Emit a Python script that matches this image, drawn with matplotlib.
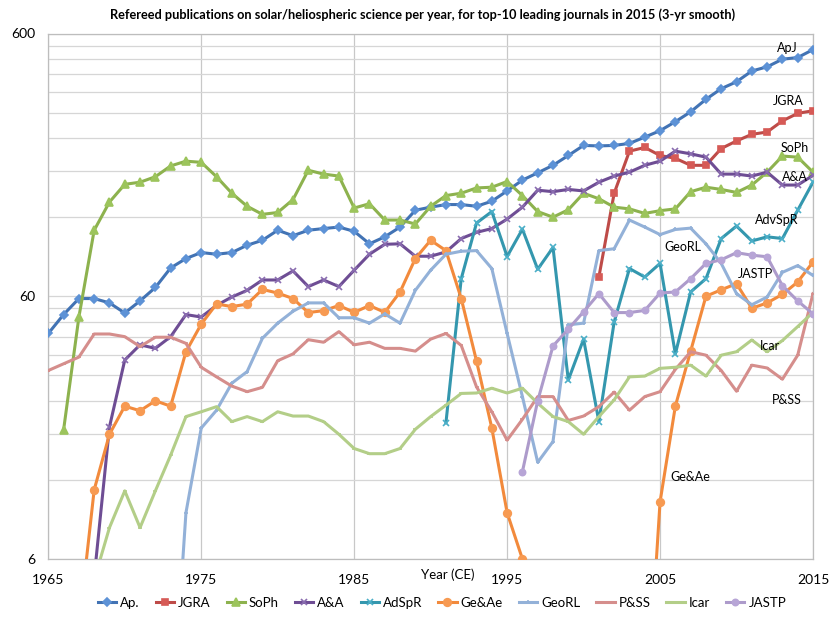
import numpy as np
import matplotlib
matplotlib.use('Agg')
import matplotlib.pyplot as plt
from matplotlib.ticker import FixedLocator, NullFormatter

plt.rcParams['font.family'] = ['Lato', 'DejaVu Sans']

nan = np.nan
years = np.arange(1965, 2016)

# values, 1965..2015 (nan = no point)
ap = [43.3, 51.1, 58.8, 58.8, 56.6, 51.8, 57.6, 64.8, 76.9, 83.5,
      88, 86.7, 88, 93.8, 98, 107, 102, 107, 108.6, 110,
      106, 95, 101, 110, 127.5, 131, 134, 134, 132, 138,
      151, 166, 177, 189, 206, 225, 224, 225, 229, 242,
      256, 277, 302, 337, 370, 393, 432, 448, 479, 486, 521]
jgra = [nan] * 36 + [71, 148, 214, 221, 206, 201, 189, 189, 219, 234,
                     248, 253, 279, 298, 305]
soph = [nan, 18.6, 50, 107, 137, 160, 163, 171, 188, 196,
        194, 171, 148, 132, 123, 125, 140, 181, 175, 172,
        130, 135, 117, 117, 113, 132, 145, 148, 155, 156,
        164, 145, 126, 120, 128, 148, 141, 131, 129, 124,
        127, 129, 150, 156, 153, 149, 159, 178, 205, 203, 178]
aa = [nan, nan, nan, 5.1, 19.1, 34.3, 39.2, 38, 42.1, 51.1,
      50, 55.4, 59.6, 63.2, 69.2, 69.2, 74.9, 65.3, 69.2, 65.3,
      75.4, 86.7, 94.6, 95, 85.2, 85.2, 88.5, 99.5, 105, 108.6,
      118, 131, 152, 150, 153, 151, 163, 172, 178, 189,
      196, 214, 209, 203, 175, 175, 172, 178, 159, 159, 173]
adspr = [nan] * 26 + [19.8, 70, 114, 126, 85, 108, 76, 92, 28.8, 41.2,
                      20, 47.9, 76.5, 71, 80, 36.2, 62.3, 70, 99.5, 111,
                      97.4, 101, 99.5, 127.5, 163]
geae = [nan, nan, 3.3, 11, 17.9, 22.9, 22, 24, 22.9, 36.9,
        47, 56.1, 54.8, 56, 63.7, 61.7, 58.8, 52, 52.9, 55.3,
        52.1, 55.3, 52.1, 62.3, 83.5, 98, 89.5, 58.8, 34, 18.9,
        9, 6.0, nan, nan, nan, nan, nan, nan, nan, 1.2,
        9.9, 22.9, 37.1, 60, 63.5, 67, 54, 56.6, 61, 68, 81]
georl = [nan] * 8 + [1.2, 9.0, 18.9, 22.1, 28, 31, 41.5, 47.4, 52.6, 56.6,
                     56.6, 49.7, 49.7, 47.4, 51.4, 47.4, 63.2, 75.4, 86.7, 89,
                     89.5, 76.5, 43.3, 24.9, 14, 16.8, 46.7, 47.4, 89.5, 91,
                     117, 110, 103, 107.7, 109, 95, 80, 61.4, 55.7, 59.6,
                     74, 78.5, 72]
pss = [31.3, 33.2, 35.2, 43.1, 43.1, 42.1, 38.6, 41.9, 41.9, 39.7,
       32.2, 29.6, 27.3, 26, 27, 34.1, 36.2, 41, 40.1, 44,
       39.2, 40.1, 38, 38, 37.1, 41.2, 43.3, 39, 27.1, 21.8,
       17, 20.4, 24.9, 24.9, 20.2, 21, 22.8, 25.9, 22.1, 24.9,
       26, 31.6, 36.9, 35.8, 31.3, 26.1, 32.8, 32, 29, 35.8, 61.4]
icar = [nan, nan, nan, 5.0, 7.9, 10.9, 7.9, 10.9, 14.9, 20.9,
        21.8, 22.8, 20, 20.9, 20, 21.8, 21, 21, 20, 17.9,
        15.8, 15.1, 15.1, 15.8, 18.7, 20.9, 23.1, 25.6, 25.7, 26.8,
        25.7, 26.8, 23.5, 20.9, 20, 17.9, 20.9, 24.2, 29.6, 29.8,
        31.9, 32.2, 32.8, 29.8, 35.8, 36.9, 40.9, 36.9, 40.7, 46, 52.1]
jastp = [nan] * 31 + [12.9, 24, 38.8, 45, 52.4, 61.4, 52, 52, 53, 61.7,
                      62.3, 70, 80, 82.6, 87.9, 86, 84.8, 65.8, 57.6, 51.4]

series = [
    ('Ap.', ap, '#4273B4', '#5D92D6', 'D', 4.5),
    ('JGRA', jgra, '#BE4B48', '#D65A56', 's', 4.5),
    ('SoPh', soph, '#8DB24E', '#9CC45C', '^', 5.5),
    ('A&A', aa, '#6E4D94', '#8A6DB0', 'x', 4.5),
    ('AdSpR', adspr, '#3497AE', '#4BAFC8', 'x', 4.5),
    ('Ge&Ae', geae, '#F28A3C', '#F79A52', 'o', 5.5),
    ('GeoRL', georl, '#93B1D8', '#93B1D8', '+', 3),
    ('P&SS', pss, '#D58E8C', '#D58E8C', '_', 3),
    ('Icar', icar, '#B3CE88', '#B3CE88', '_', 3),
    ('JASTP', jastp, '#AD9BCB', '#B7A5D6', 'o', 4.5),
]

# in-plot labels (year, value)
labels = [('ApJ', 2013.3, 528), ('JGRA', 2013.4, 332), ('SoPh', 2013.8, 220),
          ('A&A', 2013.8, 170), ('AdvSpR', 2012.6, 117), ('GeoRL', 2006.5, 92),
          ('JASTP', 2011.25, 73), ('Icar', 2012.2, 38.8), ('P&SS', 2013.3, 24.2),
          ('Ge&Ae', 2007.0, 12.3)]

fig = plt.figure(figsize=(8.3, 6.19), dpi=100)
ax = fig.add_axes([48.3 / 830, 1 - 559 / 619, (813 - 48.3) / 830, (559 - 33.5) / 619])

for name, vals, lc, mc, mk, ms in series:
    ax.plot(years, np.array(vals, dtype=float), color=lc, lw=2.2, marker=mk,
            markersize=ms, markerfacecolor=mc, markeredgecolor=mc,
            markeredgewidth=1.2, label=name, zorder=3)

ax.set_yscale('log')
ax.set_ylim(6, 600)
ax.set_xlim(1965, 2015)
ax.yaxis.set_major_locator(FixedLocator([6, 60, 600]))
ax.yaxis.set_major_formatter(matplotlib.ticker.FuncFormatter(lambda v, p: '%d' % round(v)))
minor = [m * 10 ** e for e in range(0, 3) for m in range(1, 10)]
minor = [v * 0.6 for v in minor if 6 < v * 0.6 < 600 and round(v * 0.6) not in (6, 60, 600)]
ax.yaxis.set_minor_locator(FixedLocator(minor))
ax.yaxis.set_minor_formatter(NullFormatter())
ax.set_xticks(range(1965, 2016, 10))
ax.grid(True, which='both', axis='y', color='#D6D6D6', lw=0.9, zorder=0)
ax.grid(True, which='major', axis='x', color='#C8C8C8', lw=0.9, zorder=0)
ax.tick_params(which='both', length=0, labelsize=10, colors='black')
ax.tick_params(axis='y', pad=9)
ax.tick_params(axis='x', pad=11)
for s in ax.spines.values():
    s.set_color('#BDBDBD')
    s.set_linewidth(0.9)

for txt, x, y in labels:
    ax.text(x, y, txt, fontsize=9, ha='center', va='center', zorder=4)

fig.text(423 / 830, 1 - 15 / 619,
         'Refereed publications on solar/heliospheric science per year, for top-10 leading journals in 2015 (3-yr smooth)',
         fontsize=9.2, fontweight='bold', ha='center', va='center')
fig.text(448 / 830, 1 - 575 / 619, 'Year (CE)', fontsize=9.5, ha='center', va='center')

fig.legend(loc='center', bbox_to_anchor=(442 / 830, 1 - 603 / 619), ncol=10,
           frameon=False, fontsize=9.5, handlelength=1.4, handletextpad=0.3,
           columnspacing=1.2, borderaxespad=0)

fig.savefig('out.png', dpi=100)
